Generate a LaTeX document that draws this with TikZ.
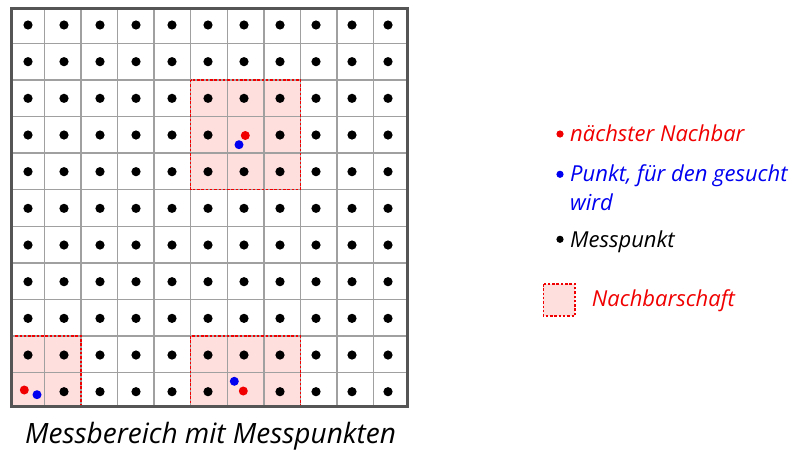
\documentclass[tikz,border=0pt]{standalone}
\usepackage{fontspec}
\setmainfont{Open Sans}
\definecolor{gridgray}{RGB}{160,160,160}
\definecolor{framegray}{RGB}{85,85,85}
\definecolor{hoodfill}{RGB}{255,222,222}
\definecolor{nbred}{RGB}{240,0,0}
\definecolor{qblue}{RGB}{0,0,240}
\tikzset{
  gridline/.style={draw=gridgray, line width=1.5pt},
  frame/.style={draw=framegray, line width=3pt},
  hood/.style={fill=hoodfill},
  hoodedge/.style={draw=nbred, line width=1.3pt, dash pattern=on 2.5pt off 1.8pt},
  mdot/.style={circle, fill=black, inner sep=0pt, minimum size=9.2pt},
  reddot/.style={circle, fill=nbred, inner sep=0pt, minimum size=9pt},
  bluedot/.style={circle, fill=qblue, inner sep=0pt, minimum size=9pt},
  legdot/.style={circle, inner sep=0pt, minimum size=7.2pt},
  legtext/.style={anchor=base west, inner sep=0pt, font=\fontsize{22}{26}\selectfont\itshape},
  captext/.style={anchor=base west, inner sep=0pt, font=\fontsize{28}{32}\selectfont\itshape},
}
\begin{document}
\begin{tikzpicture}[x=1pt, y=-1pt]
\useasboundingbox (0,0) rectangle (792,452);

% neighbourhood areas
\fill[hood] (190.7,79.9) rectangle (300.35,189.7);
\fill[hood] (11,336.1) rectangle (81.05,406);
\fill[hood] (190.7,336.1) rectangle (300.35,406);

% grid lines
\foreach \k in {1,...,10} {
  \draw[gridline] ({7.95+36.55*\k},9) -- ({7.95+36.55*\k},406);
  \draw[gridline] (11,{6.7+36.6*\k}) -- (407.5,{6.7+36.6*\k});
}

% measuring points (three are replaced by the nearest neighbours)
\foreach \i in {0,...,10} {
  \foreach \j in {0,...,10} {
    \pgfmathtruncatemacro{\skipit}{(\i==6 && \j==3) || (\i==0 && \j==10) || (\i==6 && \j==10)}
    \ifnum\skipit=0
      \node[mdot] (m-\i-\j) at ({28+36*\i},{25+36.67*\j}) {};
    \fi
  }
}

% neighbourhood borders
\draw[hoodedge] (190.7,79.9) rectangle (300.35,189.7);
\draw[hoodedge] (11,336.1) rectangle (81.05,407);
\draw[hoodedge] (190.7,336.1) rectangle (300.35,407);

% outer frame
\draw[frame] (11,9) rectangle (407.5,406);

% nearest neighbours and query points
\node[reddot] (n1) at (245.3,135.5) {};
\node[bluedot] (q1) at (239,144.7) {};
\node[reddot] (n2) at (24.3,390) {};
\node[bluedot] (q2) at (37,394.7) {};
\node[bluedot] (q3) at (234.3,381.3) {};
\node[reddot] (n3) at (243.3,391) {};

% caption
\node[captext] (cap) at (25,443) {Messbereich mit Messpunkten};

% legend
\node[legdot, fill=nbred] (ld1) at (560,134) {};
\node[legtext, text=nbred] (lt1) at (570,141.7) {nächster Nachbar};
\node[legdot, fill=qblue] (ld2) at (560,174.3) {};
\node[legtext, text=qblue] (lt2) at (570,181.7) {Punkt, für den gesucht};
\node[legtext, text=qblue] (lt2b) at (570,210) {wird};
\node[legdot, fill=black] (ld3) at (560,239.3) {};
\node[legtext] (lt3) at (570,247.3) {Messpunkt};
\fill[hood] (543.3,284) rectangle (575,316);
\draw[hoodedge] (543.3,284) rectangle (575,316);
\node[legtext, text=nbred] (lt4) at (591.7,306.7) {Nachbarschaft};
\end{tikzpicture}
\end{document}
